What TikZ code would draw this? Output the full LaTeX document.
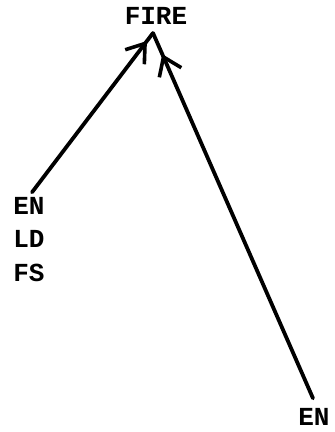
\documentclass[tikz,border=0pt]{standalone}
\usepackage{fontspec}
\setmonofont{Liberation Mono}
\usepackage{tikz}
\usetikzlibrary{arrows.meta, positioning, decorations.markings}
\tikzset{
  codenode/.style={font=\ttfamily\bfseries\fontsize{26}{26}\selectfont, inner sep=2pt, text height=15pt, text depth=0pt},
  flowline/.style={line width=3.8pt, line cap=round, postaction={decorate},
    decoration={markings, mark=at position #1 with {\arrow{Straight Barb[length=17pt, width=24pt, line width=3.6pt]}}}},
}

\begin{document}
\begin{tikzpicture}[x=1pt, y=-1pt, node distance=14pt]
  \useasboundingbox (0,0) rectangle (335,432);
  \node[codenode] (fire) at (156,17) {FIRE};
  \node[codenode] (en) at (29,207) {EN};
  \node[codenode, below=of en] (ld) {LD};
  \node[codenode, below=of ld] (fs) {FS};
  \node[codenode] (en2) at (314,418) {EN};
  \coordinate (apex) at (153,33);
  \draw[flowline=-10pt] ([xshift=3pt, yshift=5pt]en.north) -- (apex);
  \draw[flowline=-23pt] ([xshift=-1pt, yshift=10pt]en2.north) -- (apex);
\end{tikzpicture}
\end{document}
